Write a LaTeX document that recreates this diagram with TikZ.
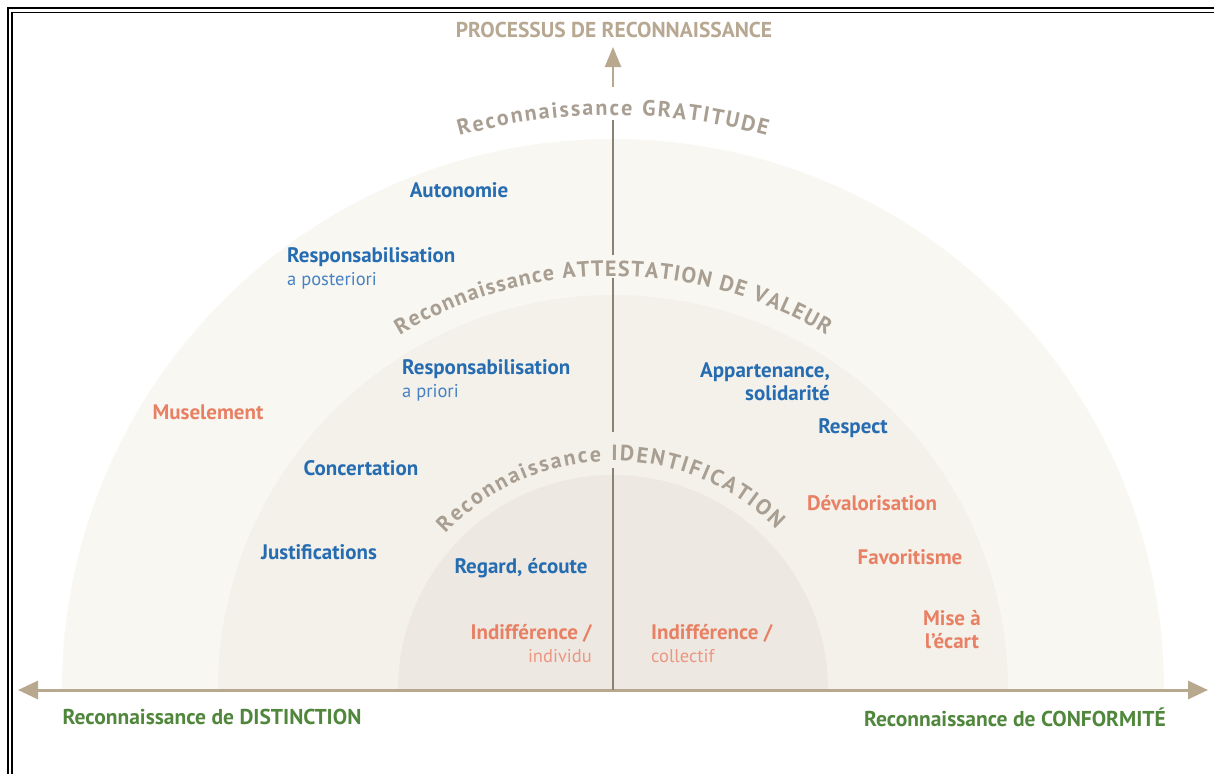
\documentclass[tikz,border=0pt]{standalone}
\usepackage{fontspec}
\setmainfont{PT Sans}
\usetikzlibrary{arrows.meta,decorations.text,positioning}
\definecolor{axistan}{RGB}{184,168,142}
\definecolor{stemgray}{RGB}{140,130,115}
\definecolor{arcgray}{RGB}{168,158,145}
\definecolor{ringouter}{RGB}{249,247,242}
\definecolor{ringmid}{RGB}{244,241,235}
\definecolor{ringinner}{RGB}{237,233,226}
\definecolor{labelblue}{RGB}{38,108,176}
\definecolor{subblue}{RGB}{70,130,195}
\definecolor{labelred}{RGB}{232,128,100}
\definecolor{subred}{RGB}{236,150,130}
\definecolor{labelgreen}{RGB}{80,135,60}
\definecolor{titletan}{RGB}{184,168,146}
\newcommand\lblfont{\fontsize{21}{23}\selectfont\bfseries}
\newcommand\subfont{\fontsize{18.5}{23}\selectfont\mdseries}
\newcommand\arcfont{\fontsize{22}{24}\selectfont\bfseries}
\tikzset
{
  bluelabel/.style  = {text=labelblue, font=\lblfont, inner sep=0pt},
  redlabel/.style   = {text=labelred, font=\lblfont, inner sep=0pt},
  greenlabel/.style = {text=labelgreen, font=\fontsize{21.5}{24}\selectfont\bfseries, inner sep=0pt},
  titlelabel/.style = {text=titletan, font=\fontsize{21.5}{24}\selectfont\bfseries, inner sep=0pt},
  axisline/.style   = {draw=axistan, line width=3pt, {Triangle[length=20pt,width=18pt]}-{Triangle[length=20pt,width=18pt]}},
  stem/.style       = {draw=stemgray, line width=2.5pt},
  arclabel/.style   = {decorate, decoration={text along path, text={|\arcfont|#1}, text color=arcgray, text align={fit to path}}}
}
\begin{document}
\begin{tikzpicture}[x=1pt,y=1pt]
  \useasboundingbox (0,0) rectangle (1214,-774);
  \fill[white] (0,0) rectangle (1214,-774);
  \draw[line width=2pt] (8.3,-774) -- (8.3,-8.3) -- (1214,-8.3);
  \draw[line width=1.6pt] (11.9,-774) -- (11.9,-12.5) -- (1214,-12.5);

  \coordinate (hub) at (613,-690);
  \fill[ringouter] (hub) ++(180:551) arc[start angle=180, end angle=0, radius=551] -- cycle;
  \fill[ringmid] (hub) ++(180:395) arc[start angle=180, end angle=0, radius=395] -- cycle;
  \fill[ringinner] (hub) ++(180:215) arc[start angle=180, end angle=0, radius=215] -- cycle;

  \coordinate (leftend) at (18,-690);
  \coordinate (rightend) at (1208,-690);
  \draw[axisline] (leftend) -- (rightend);

  \coordinate (stemA) at (613,-468);
  \coordinate (stemB) at (613,-432);
  \coordinate (stemC) at (613,-278);
  \coordinate (stemD) at (613,-255);
  \coordinate (stemE) at (613,-120);
  \coordinate (stemF) at (613,-87);
  \coordinate (toptip) at (613,-47);
  \draw[stem] (hub) -- (stemA);
  \draw[stem] (stemB) -- (stemC);
  \draw[stem] (stemD) -- (stemE);
  \draw[stem, draw=axistan, -{Triangle[length=20pt,width=16pt]}] (stemF) -- (toptip);

  \path[arclabel={Reconnaissance GRATITUDE}] (hub) ++(105.5:575) arc[start angle=105.5, end angle=74.5, radius=575];
  \path[arclabel={Reconnaissance ATTESTATION DE VALEUR}] (hub) ++(121:414) arc[start angle=121, end angle=59, radius=414];
  \path[arclabel={Reconnaissance IDENTIFICATION}] (hub) ++(137:229) arc[start angle=137, end angle=44.5, radius=229];

  \node[titlelabel] (processus) at (614,-30) {PROCESSUS DE RECONNAISSANCE};

  \node[bluelabel] (autonomie) at (459,-190) {Autonomie};
  \node[bluelabel, align=left, anchor=west] (resppost) at (287,-268) {Responsabilisation\\{\subfont\color{subblue}a posteriori}};
  \node[bluelabel, align=left, anchor=west] (respprio) at (402,-380) {Responsabilisation\\{\subfont\color{subblue}a priori}};
  \node[bluelabel, align=right, anchor=east] (appartenance) at (830,-382) {Appartenance,\\solidarité};
  \node[bluelabel] (respect) at (853,-428) {Respect};
  \node[redlabel] (muselement) at (208,-412) {Muselement};
  \node[bluelabel] (concertation) at (361,-468) {Concertation};
  \node[bluelabel] (justifications) at (319,-552) {Justifications};
  \node[bluelabel] (regard) at (521,-568) {Regard, écoute};
  \node[redlabel] (devalorisation) at (872,-503) {Dévalorisation};
  \node[redlabel] (favoritisme) at (910,-557) {Favoritisme};
  \node[redlabel, align=center] (miseecart) at (952,-630) {Mise à\\l’écart};
  \node[redlabel, align=right, anchor=east] (indivleft) at (592,-644) {Indifférence /\\{\subfont\color{subred}individu}};
  \node[redlabel, align=left, anchor=west] (indivright) at (651,-644) {Indifférence /\\{\subfont\color{subred}collectif}};

  \node[greenlabel] (distinction) at (212,-717) {Reconnaissance de DISTINCTION};
  \node[greenlabel] (conformite) at (1015,-717) {Reconnaissance de CONFORMITÉ};
\end{tikzpicture}
\end{document}
